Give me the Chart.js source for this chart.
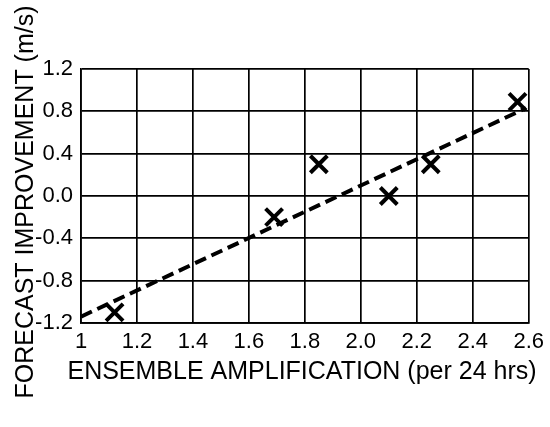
<!DOCTYPE html>
<html>
<head>
<meta charset="utf-8">
<script src="https://cdn.jsdelivr.net/npm/chart.js@4.4.1/dist/chart.umd.min.js"></script>
<style>
  html, body { margin: 0; padding: 0; background: #fff; }
  #wrap { width: 550px; height: 427px; }
</style>
</head>
<body>
<div id="wrap"><canvas id="forecast" width="550" height="427"></canvas></div>
<script>
// amplification (x) vs forecast improvement (y)
const ampValues = [1.12, 1.69, 1.85, 2.10, 2.25, 2.56];
const improveValues = [-1.10, -0.20, 0.30, 0.00, 0.30, 0.89];

// dashed fit line end points
const fitX = [1.0, 2.59];
const fitY = [-1.14, 0.83];

const xTickLabels = ['1', '1.2', '1.4', '1.6', '1.8', '2.0', '2.2', '2.4', '2.6'];
const yTickLabels = ['-1.2', '-0.8', '-0.4', '0.0', '0.4', '0.8', '1.2'];

const xTitle = 'ENSEMBLE AMPLIFICATION (per 24 hrs)';
const yTitle = 'FORECAST IMPROVEMENT (m/s)';

const FONT = '"Liberation Sans", Arial, Helvetica, sans-serif';

const points = ampValues.map((v, i) => ({x: v, y: improveValues[i]}));
const fitLine = fitX.map((v, i) => ({x: v, y: fitY[i]}));

// axis titles drawn by hand so the y title can sit over the tick labels like the original
const axisTitles = {
    id: 'axisTitles',
    afterDraw(chart) {
        const ctx = chart.ctx;
        ctx.save();
        ctx.fillStyle = '#000';
        ctx.font = '25px ' + FONT;
        ctx.textAlign = 'center';
        ctx.textBaseline = 'alphabetic';
        ctx.fillText(xTitle, 302, 379);
        ctx.translate(33, 202);
        ctx.rotate(-Math.PI / 2);
        ctx.fillText(yTitle, 0, 0);
        ctx.restore();
    }
};

const config = {
    type: 'scatter',
    data: {
        datasets: [
            {
                label: 'cases',
                data: points,
                pointStyle: 'crossRot',
                pointRadius: 12,
                pointHoverRadius: 12,
                borderColor: '#000',
                backgroundColor: '#000',
                borderWidth: 4,
                showLine: false
            },
            {
                label: 'fit',
                type: 'line',
                data: fitLine,
                borderColor: '#000',
                borderWidth: 4,
                borderDash: [12, 6],
                pointRadius: 0,
                fill: false
            }
        ]
    },
    options: {
        responsive: false,
        animation: false,
        layout: {
            padding: {left: 0, right: 18, top: 69, bottom: 0}
        },
        plugins: {
            legend: {display: false},
            tooltip: {enabled: false}
        },
        scales: {
            x: {
                type: 'linear',
                min: 1,
                max: 2.6,
                afterFit(scale) { scale.height = 104; },
                afterBuildTicks(scale) {
                    scale.ticks = xTickLabels.map(t => ({value: parseFloat(t)}));
                },
                ticks: {
                    color: '#000',
                    padding: 6,
                    maxRotation: 0,
                    autoSkip: false,
                    font: {family: FONT, size: 22},
                    callback: (v, i) => xTickLabels[i]
                },
                grid: {
                    color: '#000',
                    lineWidth: 1.7,
                    drawTicks: false
                },
                border: {color: '#000', width: 1.7}
            },
            y: {
                type: 'linear',
                min: -1.2,
                max: 1.2,
                afterFit(scale) { scale.width = 81; },
                afterBuildTicks(scale) {
                    scale.ticks = yTickLabels.map(t => ({value: parseFloat(t)}));
                },
                ticks: {
                    color: '#000',
                    padding: 8,
                    autoSkip: false,
                    font: {family: FONT, size: 22},
                    callback: (v, i) => yTickLabels[i]
                },
                grid: {
                    color: '#000',
                    lineWidth: 1.7,
                    drawTicks: false
                },
                border: {color: '#000', width: 1.7}
            }
        }
    },
    plugins: [axisTitles]
};

const ctx = document.getElementById('forecast').getContext('2d');
const chart = new Chart(ctx, config);
</script>
</body>
</html>
